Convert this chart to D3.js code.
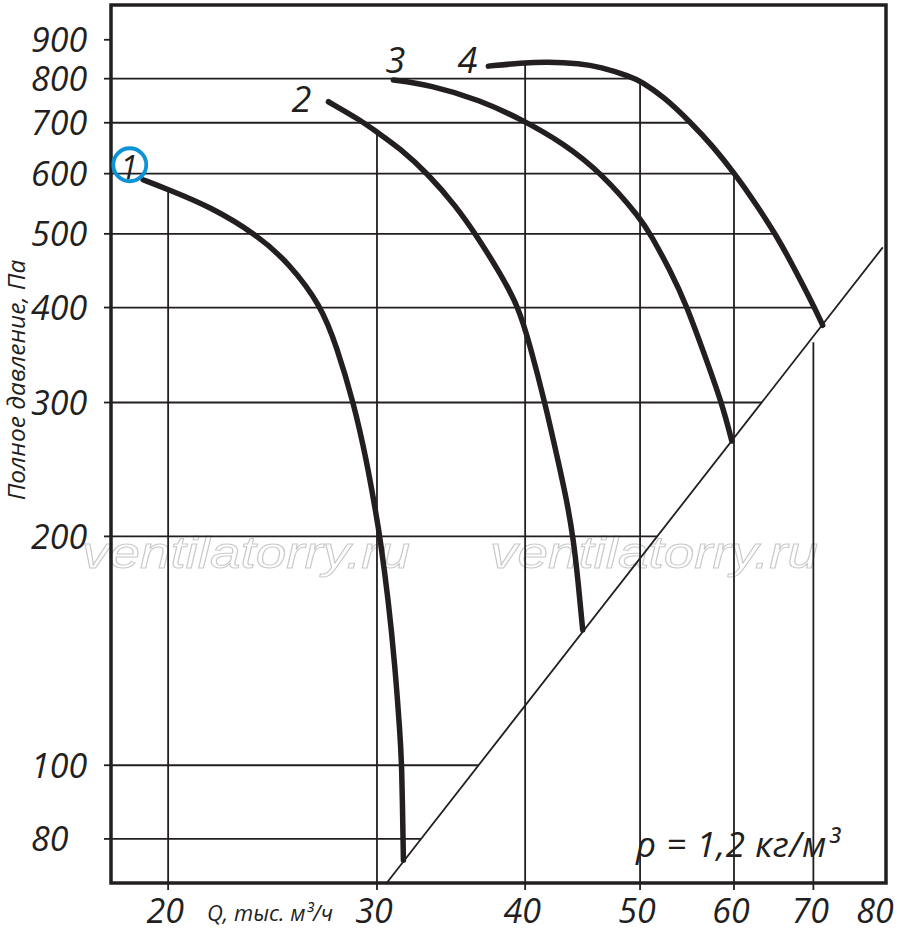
<!DOCTYPE html>
<html><head><meta charset="utf-8">
<script src="https://cdn.jsdelivr.net/npm/d3@7"></script>
<style>body{margin:0;background:#fff}svg{display:block}</style>
</head><body>
<svg id="chart" width="900" height="945"></svg>
<script>
// ---- data ----
const qTicks = [20, 30, 40, 50, 60, 70, 80];
const pTicks = [80, 100, 200, 300, 400, 500, 600, 700, 800, 900];
const gridQ = [20, 30, 40, 50, 60, 70];
const gridQTopCurve = ["1", "2", "4", "4", "4", "sys"];
const gridP = [80, 100, 200, 300, 400, 500, 600, 700, 800, 900];

const curve1Q = [19.05, 20.0, 21.7, 23.8, 25.3, 26.9, 27.75, 28.65, 29.4, 29.98, 30.18, 30.67, 31.07, 31.37, 31.48, 31.58];
const curve1P = [589, 572, 543, 498, 457, 403, 355, 301, 252, 212, 199, 165, 135, 110, 101, 75];
const curve2Q = [27.3, 29.03, 29.9, 31.37, 33.14, 35.0, 36.41, 37.9, 39.47, 40.37, 41.57, 42.8, 43.36, 43.92, 44.35, 44.73];
const curve2P = [746, 706, 683, 648, 599, 543, 497, 450, 402, 357, 300, 245, 223, 199, 173.5, 150.6];
const curve3Q = [30.97, 33.25, 36.64, 39.73, 43.08, 46.44, 50.1, 51.1, 53.0, 54.72, 56.54, 58.59, 59.75];
const curve3P = [797, 785, 750, 707, 658, 600, 523, 497, 448, 402.5, 350, 300, 267];
const curve4Q = [37.24, 39.73, 41.71, 44.49, 46.26, 49.04, 50.1, 52.32, 55.1, 57.64, 60.12, 62.3, 65.19, 67.32, 69.99, 71.28];
const curve4P = [831, 839, 842, 838, 829, 806, 793, 758, 702, 651, 599, 554, 497, 453, 403, 379];
const sysQ = [30.57, 80.1];
const sysP = [70, 480];

const xDomain = [17.9, 80.6];
const yDomain = [70, 1000];
const axisTitleY = "Полное давление, Па";
const axisTitleX = "Q, тыс. м³/ч";
const densityNote = "ρ = 1,2 кг/м³";
const watermark = "ventilatorry.ru";

// ---- layout ----
const W = 900, H = 945;
const L = 111, R = 886, T = 5, B = 883;
const ink = "#231f20";
const font = "'Open Sans', 'Noto Sans', sans-serif";

const curves = {
  "1": {q: curve1Q, p: curve1P},
  "2": {q: curve2Q, p: curve2P},
  "3": {q: curve3Q, p: curve3P},
  "4": {q: curve4Q, p: curve4P},
  "sys": {q: sysQ, p: sysP}
};

const x = d3.scaleLog().domain(xDomain).range([L, R]);
const y = d3.scaleLog().domain(yDomain).range([B, T]);

const svg = d3.select("#chart");

// helpers (log-log interpolation on a polyline)
function pAt(c, q) {
  for (let i = 0; i < c.q.length - 1; i++) {
    const a = c.q[i], b = c.q[i + 1];
    if (q >= Math.min(a, b) && q <= Math.max(a, b)) {
      const t = (Math.log(q) - Math.log(a)) / (Math.log(b) - Math.log(a));
      return Math.exp(Math.log(c.p[i]) + t * (Math.log(c.p[i + 1]) - Math.log(c.p[i])));
    }
  }
  return null;
}
function lastQAt(c, p) {
  for (let i = c.p.length - 2; i >= 0; i--) {
    const a = c.p[i], b = c.p[i + 1];
    if (p >= Math.min(a, b) && p <= Math.max(a, b) && a !== b) {
      const t = (Math.log(p) - Math.log(a)) / (Math.log(b) - Math.log(a));
      return Math.exp(Math.log(c.q[i]) + t * (Math.log(c.q[i + 1]) - Math.log(c.q[i])));
    }
  }
  return null;
}

// watermark
[82, 490].forEach(wx => {
  svg.append("text").attr("x", wx).attr("y", 568)
    .attr("font-family", "'Liberation Sans', Arial, sans-serif")
    .attr("font-style", "italic").attr("font-size", 45)
    .attr("textLength", 328).attr("lengthAdjust", "spacingAndGlyphs")
    .attr("fill", "none").attr("stroke", "#c9c9c9").attr("stroke-width", 1)
    .text(watermark);
});

// grid: horizontal
const gGrid = svg.append("g").attr("stroke", ink).attr("stroke-width", 1.8);
gridP.forEach(p => {
  const ends = [lastQAt(curves["4"], p), lastQAt(curves["sys"], p)].filter(v => v !== null);
  if (!ends.length) return;
  const qEnd = Math.min(...ends);
  gGrid.append("line").attr("x1", L).attr("x2", x(qEnd)).attr("y1", y(p)).attr("y2", y(p));
});
// grid: vertical
gridQ.forEach((q, i) => {
  const top = pAt(curves[gridQTopCurve[i]], q);
  const gap = gridQTopCurve[i] === "sys" ? 6 : 0;
  gGrid.append("line").attr("x1", x(q)).attr("x2", x(q)).attr("y1", y(top) + gap).attr("y2", B);
});

// ticks
const gTicks = svg.append("g").attr("stroke", ink).attr("stroke-width", 1.8);
pTicks.forEach(p => gTicks.append("line").attr("x1", L - 7).attr("x2", L).attr("y1", y(p)).attr("y2", y(p)));
qTicks.filter(q => x(q) < R - 6).forEach(q => gTicks.append("line").attr("x1", x(q)).attr("x2", x(q)).attr("y1", B).attr("y2", B + 7));

// system line
const line = d3.line().x(d => x(d[0])).y(d => y(d[1]));
svg.append("path").datum(sysQ.map((q, i) => [q, sysP[i]]))
  .attr("d", line).attr("fill", "none").attr("stroke", ink).attr("stroke-width", 1.8);

// fan curves
const smooth = d3.line().x(d => x(d[0])).y(d => y(d[1])).curve(d3.curveBasis);
["1", "2", "3", "4"].forEach(k => {
  const c = curves[k];
  svg.append("path").datum(c.q.map((q, i) => [q, c.p[i]]))
    .attr("d", smooth).attr("fill", "none").attr("stroke", ink)
    .attr("stroke-width", 5.5).attr("stroke-linecap", "round").attr("stroke-linejoin", "round");
});

// frame
svg.append("rect").attr("x", L).attr("y", T).attr("width", R - L).attr("height", B - T)
  .attr("fill", "none").attr("stroke", ink).attr("stroke-width", 3.5);

// tick labels
const gLab = svg.append("g").attr("font-family", font).attr("font-style", "italic").attr("fill", ink);
pTicks.forEach(p => gLab.append("text").attr("x", 31).attr("y", y(p) + 12.5)
  .attr("font-size", 34).text(p));
qTicks.forEach(q => {
  const cx = Math.min(x(q) - 3, W - 25);
  gLab.append("text").attr("x", cx).attr("y", 923).attr("text-anchor", "middle")
    .attr("font-size", 34).text(q);
});

// axis titles
gLab.append("text").attr("transform", "translate(25,380) rotate(-90)")
  .attr("text-anchor", "middle").attr("font-size", 24.5).text(axisTitleY);
gLab.append("text").attr("x", 270).attr("y", 921).attr("text-anchor", "middle")
  .attr("font-size", 22).text(axisTitleX);

// density note
gLab.append("text").attr("x", 636).attr("y", 857).attr("font-size", 35)
  .attr("letter-spacing", 0.6).text(densityNote);

// curve labels (relative to each curve's first point)
const labelOffset = {"1": [-14, -1, 32], "2": [-27, 10, 36], "3": [2, -7, 36], "4": [-21, 7, 36]};
["1", "2", "3", "4"].forEach(k => {
  const c = curves[k], o = labelOffset[k];
  gLab.append("text").attr("x", x(c.q[0]) + o[0]).attr("y", y(c.p[0]) + o[1])
    .attr("text-anchor", "middle").attr("font-size", o[2]).text(k);
});
// highlight circle around label 1
svg.append("circle").attr("cx", x(curve1Q[0]) - 13.3).attr("cy", y(curve1P[0]) - 15)
  .attr("r", 16.5).attr("fill", "none").attr("stroke", "#0b93d5").attr("stroke-width", 3.8);
</script>
</body></html>
